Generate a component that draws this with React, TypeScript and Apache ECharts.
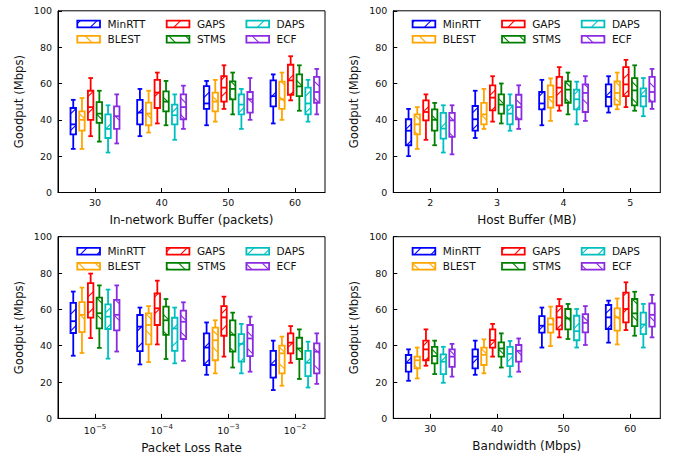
import React, { useEffect, useRef } from "react";
import * as echarts from "echarts";

const methods = ["MinRTT", "BLEST", "GAPS", "STMS", "DAPS", "ECF"];
const methodColors = ["#0000ff", "#ffa500", "#ff0000", "#008000", "#00bfbf", "#8a2be2"];
const methodHatches = ["/", "\\", "/", "\\", "/", "\\"];

const bufferLabels = ["30", "40", "50", "60"];
const hostBufferLabels = ["2", "3", "4", "5"];
const lossExponents = ["\u22125", "\u22124", "\u22123", "\u22122"];
const bandwidthLabels = ["30", "40", "50", "60"];

// each row: [lower whisker, Q1, median, Q3, upper whisker]
const bufferMinRTT = [[24, 32, 37.5, 46.5, 51], [31, 37.5, 44, 51, 57], [37, 46, 49, 58.5, 61.4], [38, 47.4, 53, 61.7, 65]];
const bufferBLEST = [[24, 34, 40, 44.7, 52], [33, 37, 43.4, 49.5, 56], [39, 44.7, 50, 55, 62], [40, 46, 51.3, 61, 66]];
const bufferGAPS = [[31, 40, 47, 56, 63], [38, 46.5, 55, 62, 66], [46, 50, 57.7, 64, 70], [50.7, 53.8, 61.7, 70.3, 75]];
const bufferSTMS = [[28, 38.3, 43.4, 49.7, 56], [37, 44.7, 50, 55.7, 61.4], [43, 51.3, 57, 61.2, 66], [45, 53, 58.4, 65, 70]];
const bufferDAPS = [[22, 30, 35, 43, 48], [29, 37.5, 42.5, 48.4, 54], [35, 43, 48.4, 54, 57], [39, 43, 49, 57.7, 62]];
const bufferECF = [[27, 35, 42, 47.4, 54], [35, 40.3, 47, 54, 58.8], [40, 44, 51.3, 55.3, 63], [43, 49.4, 55.3, 63.6, 68]];

const hostMinRTT = [[20, 26, 34, 40.3, 46], [30, 34, 40.3, 47.6, 56], [37, 45.8, 49, 55.3, 62], [44, 47.4, 52.6, 59.5, 64]];
const hostBLEST = [[24, 32, 37.5, 43, 47], [35, 37.5, 43, 49.3, 57], [39.4, 46.7, 52.6, 59, 62.8], [45.8, 48.4, 54.8, 61.2, 66]];
const hostGAPS = [[29, 39.7, 44.3, 50.7, 54], [39, 45.2, 52.2, 59, 64], [45, 48, 57.7, 63.6, 69], [47, 53, 59.5, 69, 73]];
const hostSTMS = [[26, 34, 40, 45.8, 49.3], [38, 43.4, 48.4, 54, 60], [43, 49.4, 56.6, 61.2, 66], [45, 48, 56.2, 63, 70]];
const hostDAPS = [[22, 29.7, 35.2, 43.8, 48], [34, 37.5, 43.4, 48, 54], [37.5, 45.8, 51.3, 56.6, 61], [42, 47.4, 53, 57.3, 63]];
const hostECF = [[21, 30.6, 39.7, 43.8, 48], [35, 40.3, 47, 53.8, 59], [39.4, 44.3, 54.8, 59.5, 64], [46, 50, 55.3, 63.6, 68]];

const lossMinRTT = [[34.5, 47, 53.5, 63.6, 69.8], [29.7, 37, 50.5, 56.9, 61], [24, 29.4, 39, 46.8, 52.8], [15.6, 22.4, 29.4, 37.2, 42.8]];
const lossBLEST = [[36, 47.5, 57, 64, 72], [31, 40.7, 51.4, 57.8, 61.8], [24.8, 32, 43, 50, 54], [18, 24.8, 35.8, 40, 45]];
const lossGAPS = [[44.2, 55.5, 64, 74.4, 79.7], [40.7, 51.4, 60.6, 68.8, 75.8], [34, 45.5, 55.6, 61.8, 67], [30.6, 35.8, 41.7, 46.8, 50.8]];
const lossSTMS = [[38.8, 49.6, 57.9, 66.5, 73.2], [32.7, 46, 54, 61.5, 65.7], [28, 36.7, 46, 54, 58.2], [21.7, 32.7, 38.5, 44.4, 49]];
const lossDAPS = [[32.9, 49.2, 56, 62.7, 70.9], [30.3, 37.2, 49.5, 55.4, 61], [24.8, 31.2, 41, 46.4, 52], [17, 23.3, 30.6, 37.2, 42.2]];
const lossECF = [[36.8, 48.4, 57, 65.2, 73.2], [31.7, 43.7, 53.2, 59.3, 63.9], [25.7, 34.3, 44, 51.4, 56], [19, 24.8, 36.7, 41.3, 46.8]];

const bwMinRTT = [[20.7, 25.7, 30.6, 34.9, 38], [24, 27.5, 34, 38, 42.8], [39, 47.2, 51, 56.3, 61], [41.7, 49.2, 55.6, 62.4, 64.8]];
const bwBLEST = [[22, 27.5, 32, 34, 39], [24.8, 29.4, 35, 39, 43.5], [39.8, 47.2, 51.7, 55, 61.5], [40.7, 48.3, 55.6, 60.6, 66]];
const bwGAPS = [[29, 32, 38, 42.8, 49], [34, 39, 43, 49, 52], [44.6, 49, 55.6, 61.8, 65.7], [48.6, 52.8, 60.2, 69.2, 74.9]];
const bwSTMS = [[24.4, 30.3, 34.3, 39.4, 42.8], [28, 34, 38.5, 41.8, 46.8], [43.7, 49, 55, 60.2, 63], [45.5, 50.8, 57.8, 65.7, 69.7]];
const bwDAPS = [[19.6, 24.4, 31.2, 35.2, 39.4], [23, 28.8, 35.5, 39.4, 42.6], [39, 43, 48, 56.5, 60.2], [39, 46.4, 51.7, 58.2, 63]];
const bwECF = [[23, 28.4, 34, 38, 41], [25.7, 31.2, 37.2, 40.4, 44], [40.4, 47.3, 52.6, 57.4, 61.8], [44.6, 50.5, 57, 63.3, 68]];

const FONT = '"DejaVu Sans", sans-serif';
const TEXT = "#111";
const NAME_SIZE = 12;
const GRID_W = 267;
const GRID_H = 181.7;
const X_MIN = -0.555;
const X_MAX = 3.45;
const BOX_STEP = 0.1305;
const BOX_W = 0.082;
const CAP_W = 0.07;
const LW = 1.8;
const HATCH_LW = 1.1;
const HATCH_S = 16.7;
const HATCH_OFF = 0.8;

const panels = [
  { left: 58, top: 10.8, labels: bufferLabels, name: "In-network Buffer (packets)", nameGap: 21, rows: [24, 39.3], sup: false,
    stats: [bufferMinRTT, bufferBLEST, bufferGAPS, bufferSTMS, bufferDAPS, bufferECF] },
  { left: 393.3, top: 10.8, labels: hostBufferLabels, name: "Host Buffer (MB)", nameGap: 21, rows: [24, 39.3], sup: false,
    stats: [hostMinRTT, hostBLEST, hostGAPS, hostSTMS, hostDAPS, hostECF] },
  { left: 58, top: 236.7, labels: lossExponents, name: "Packet Loss Rate", nameGap: 24, rows: [251.2, 266.2], sup: true,
    stats: [lossMinRTT, lossBLEST, lossGAPS, lossSTMS, lossDAPS, lossECF] },
  { left: 393.3, top: 236.7, labels: bandwidthLabels, name: "Bandwidth (Mbps)", nameGap: 22, rows: [251.2, 266.2], sup: false,
    stats: [bwMinRTT, bwBLEST, bwGAPS, bwSTMS, bwDAPS, bwECF] },
];

const legendCols = [19.3, 108.7, 188.4];
const ICON_W = 22.7;
const ICON_H = 6.7;

function hatchSegments(x0: number, y0: number, x1: number, y1: number, dir: string) {
  const segs: any[] = [];
  const S = HATCH_S;
  if (dir === "/") {
    const cMin = x0 + y0, cMax = x1 + y1;
    for (let c = Math.ceil((cMin - HATCH_OFF) / S) * S + HATCH_OFF; c <= cMax; c += S) {
      const xa = Math.max(x0, c - y1), xb = Math.min(x1, c - y0);
      if (xb > xa + 0.3) segs.push({ x1: xa, y1: c - xa, x2: xb, y2: c - xb });
    }
  } else {
    const cMin = y0 - x1, cMax = y1 - x0;
    for (let c = Math.ceil((cMin - HATCH_OFF) / S) * S + HATCH_OFF; c <= cMax; c += S) {
      const xa = Math.max(x0, y0 - c), xb = Math.min(x1, y1 - c);
      if (xb > xa + 0.3) segs.push({ x1: xa, y1: xa + c, x2: xb, y2: xb + c });
    }
  }
  return segs;
}

function buildOption() {
  const grid: any[] = [];
  const xAxis: any[] = [];
  const yAxis: any[] = [];
  const series: any[] = [];
  const graphic: any[] = [];

  panels.forEach((p, pi) => {
    grid.push({
      left: p.left, top: p.top, width: GRID_W, height: GRID_H,
      show: true, borderColor: "#000", borderWidth: 1, backgroundColor: "transparent",
    });
    const labelBase: any = {
      show: true, customValues: [0, 1, 2, 3], margin: 5,
      fontSize: 9.5, fontFamily: FONT, color: TEXT,
    };
    if (p.sup) {
      labelBase.formatter = (v: number) => `{b|10}{s|${p.labels[Math.round(v)]}}`;
      labelBase.rich = {
        b: { fontSize: 9.5, fontFamily: FONT, color: TEXT, lineHeight: 14 },
        s: { fontSize: 7, fontFamily: FONT, color: TEXT, verticalAlign: "top" },
      };
    } else {
      labelBase.formatter = (v: number) => p.labels[Math.round(v)] ?? "";
    }
    xAxis.push({
      type: "value", gridIndex: pi, min: X_MIN, max: X_MAX,
      axisLine: { show: true, onZero: false, lineStyle: { color: "#000", width: 1 } },
      axisTick: { show: true, inside: true, length: 4.5, customValues: [0, 1, 2, 3], lineStyle: { color: "#000", width: 1 } },
      axisLabel: labelBase,
      splitLine: { show: false },
      name: p.name, nameLocation: "middle", nameGap: p.nameGap,
      nameTextStyle: { fontSize: NAME_SIZE, fontFamily: FONT, color: TEXT },
    });
    yAxis.push({
      type: "value", gridIndex: pi, min: 0, max: 100, interval: 20,
      axisLine: { show: true, onZero: false, lineStyle: { color: "#000", width: 1 } },
      axisTick: { show: true, inside: true, length: 4, lineStyle: { color: "#000", width: 1 } },
      axisLabel: { show: true, margin: 6, fontSize: 9.5, fontFamily: FONT, color: TEXT },
      splitLine: { show: false },
      name: "Goodput (Mbps)", nameLocation: "middle", nameGap: 33,
      nameTextStyle: { fontSize: 11.6, fontFamily: FONT, color: TEXT },
    });

    p.stats.forEach((rows, m) => {
      const color = methodColors[m];
      series.push({
        type: "custom",
        name: methods[m],
        xAxisIndex: pi,
        yAxisIndex: pi,
        silent: true,
        clip: false,
        encode: { x: 0, y: [1, 2, 3, 4, 5] },
        data: rows.map((r, g) => [g, ...r]),
        renderItem: (_params: any, api: any) => {
          const g = api.value(0);
          const lo = api.value(1), q1 = api.value(2), md = api.value(3), q3 = api.value(4), hi = api.value(5);
          const xc = g + (m - 2.5) * BOX_STEP;
          const pc = api.coord([xc, md]);
          const unit = api.size([1, 0])[0];
          const cx = pc[0];
          const half = (BOX_W * unit) / 2;
          const capHalf = (CAP_W * unit) / 2;
          const yLo = api.coord([xc, lo])[1];
          const yQ1 = api.coord([xc, q1])[1];
          const yQ3 = api.coord([xc, q3])[1];
          const yHi = api.coord([xc, hi])[1];
          const yMd = pc[1];
          const st = { stroke: color, lineWidth: LW, fill: "none" };
          const children: any[] = hatchSegments(cx - half, yQ3, cx + half, yQ1, methodHatches[m]).map((s) => ({
            type: "line", shape: s, style: { stroke: color, lineWidth: HATCH_LW },
          }));
          children.push(
            { type: "rect", shape: { x: cx - half, y: yQ3, width: 2 * half, height: yQ1 - yQ3 }, style: st },
            { type: "line", shape: { x1: cx - half, y1: yMd, x2: cx + half, y2: yMd }, style: st },
            { type: "line", shape: { x1: cx, y1: yQ3, x2: cx, y2: yHi }, style: st },
            { type: "line", shape: { x1: cx, y1: yQ1, x2: cx, y2: yLo }, style: st },
            { type: "line", shape: { x1: cx - capHalf, y1: yHi, x2: cx + capHalf, y2: yHi }, style: st },
            { type: "line", shape: { x1: cx - capHalf, y1: yLo, x2: cx + capHalf, y2: yLo }, style: st }
          );
          return { type: "group", children };
        },
      });

      // legend entry
      const col = Math.floor(m / 2);
      const row = m % 2;
      const ix = p.left + legendCols[col];
      const cy = p.rows[row];
      const iy = cy - ICON_H / 2;
      hatchSegments(ix, iy, ix + ICON_W, iy + ICON_H, methodHatches[m]).forEach((s) => {
        graphic.push({ type: "line", silent: true, shape: s, style: { stroke: color, lineWidth: HATCH_LW } });
      });
      graphic.push({
        type: "rect", silent: true,
        shape: { x: ix, y: iy, width: ICON_W, height: ICON_H },
        style: { fill: "none", stroke: color, lineWidth: LW },
      });
      graphic.push({
        type: "text", silent: true, x: ix + 30.2, y: cy,
        style: { text: methods[m], fontSize: 10.5, fontFamily: FONT, fill: TEXT, verticalAlign: "middle", align: "left" },
      });
    });
  });

  return {
    animation: false,
    backgroundColor: "#fff",
    grid, xAxis, yAxis, series, graphic,
  };
}

export default function App() {
  const ref = useRef<HTMLDivElement>(null);
  useEffect(() => {
    if (!ref.current) return;
    const chart = echarts.init(ref.current, undefined, { renderer: "svg" });
    chart.setOption(buildOption() as any);
    return () => chart.dispose();
  }, []);
  return <div ref={ref} style={{ position: "absolute", left: 0, top: 0, width: 680, height: 458 }} />;
}
